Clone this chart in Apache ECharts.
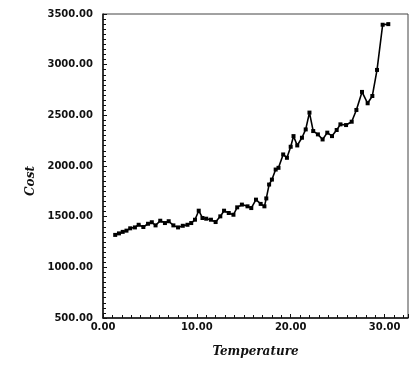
<!DOCTYPE html>
<html>
<head>
<meta charset="utf-8">
<script src="https://cdn.jsdelivr.net/npm/echarts@6/dist/echarts.min.js"></script>
<style>html,body{margin:0;padding:0;background:#fff}#c{width:411px;height:365px}</style>
</head>
<body>
<div id="c"></div>
<script>
const temperature = [1.3,1.7,2.1,2.5,2.9,3.4,3.8,4.3,4.8,5.2,5.6,6.1,6.6,7.0,7.5,8.0,8.5,9.0,9.4,9.8,10.2,10.6,11.0,11.5,12.0,12.5,12.9,13.4,13.9,14.3,14.8,15.4,15.8,16.3,16.8,17.2,17.4,17.7,18.0,18.4,18.7,19.2,19.6,20.0,20.3,20.7,21.2,21.6,22.0,22.4,22.9,23.4,23.9,24.4,24.9,25.3,25.9,26.5,27.0,27.6,28.2,28.7,29.2,29.8,30.4];
const cost = [1320,1335,1350,1362,1385,1394,1420,1398,1430,1445,1414,1460,1437,1455,1414,1394,1410,1420,1437,1470,1559,1487,1480,1470,1447,1503,1559,1536,1519,1592,1619,1602,1585,1668,1626,1602,1680,1817,1866,1965,1982,2114,2081,2190,2295,2203,2279,2361,2527,2345,2312,2262,2329,2295,2355,2411,2404,2437,2553,2731,2619,2691,2948,3394,3400];
const xTicks = [0,10,20,30];
const yTicks = [500,1000,1500,2000,2500,3000,3500];

const chart = echarts.init(document.getElementById('c'));
const labelFont = {fontFamily:'DejaVu Sans', fontSize:10, fontWeight:'bold', color:'#111'};
const titleFont = {fontFamily:'DejaVu Serif', fontSize:12, fontStyle:'italic', fontWeight:'bold', color:'#111'};
chart.setOption({
  animation:false,
  grid:{left:103,right:2,top:14,bottom:47,show:true,borderColor:'#444',borderWidth:1},
  xAxis:{
    type:'value', min:0, max:32.5, interval:10,
    name:'Temperature', nameLocation:'middle', nameGap:28, nameTextStyle:titleFont,
    axisLine:{show:true,onZero:false,lineStyle:{color:'#111',width:1.5}},
    axisTick:{show:true,inside:true,length:4,lineStyle:{color:'#111'}},
    minorTick:{show:true,splitNumber:10,length:3,lineStyle:{color:'#111'}},
    splitLine:{show:false},
    axisLabel:Object.assign({margin:4,formatter:v=>xTicks.includes(v)?v.toFixed(2):''},labelFont)
  },
  yAxis:{
    type:'value', min:500, max:3500, interval:500,
    name:'Cost', nameLocation:'middle', nameGap:62, nameTextStyle:Object.assign({padding:[0,30,0,0]},titleFont),
    axisLine:{show:true,onZero:false,lineStyle:{color:'#111',width:1.5}},
    axisTick:{show:true,inside:true,length:4,lineStyle:{color:'#111'}},
    minorTick:{show:true,splitNumber:10,length:3,lineStyle:{color:'#111'}},
    splitLine:{show:false},
    axisLabel:Object.assign({margin:10,formatter:v=>yTicks.includes(v)?v.toFixed(2):''},labelFont)
  },
  series:[{
    type:'line',
    data:temperature.map((t,i)=>[t,cost[i]]),
    symbol:'rect', symbolSize:4, showSymbol:true,
    lineStyle:{color:'#000',width:1.6},
    itemStyle:{color:'#000'}
  }]
});
</script>
</body>
</html>
